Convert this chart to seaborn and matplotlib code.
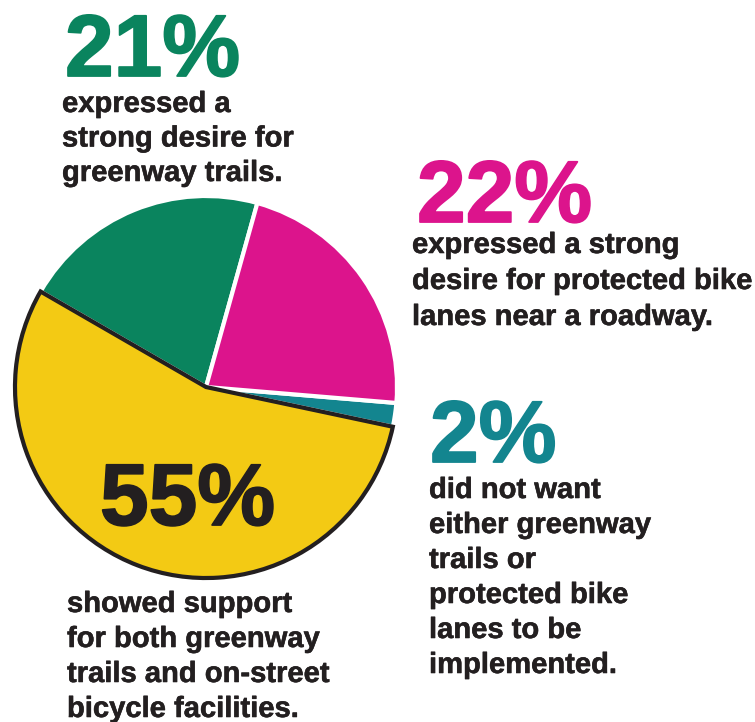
import matplotlib
matplotlib.use("Agg")
import matplotlib.pyplot as plt
import matplotlib.patheffects as pe
import seaborn as sns

sns.set_theme(style="white")
plt.rcParams["font.family"] = ["Liberation Sans", "DejaVu Sans"]

# Survey shares, in the order drawn around the pie
categories = ["greenway", "both", "neither", "protected lanes"]
shares = [21, 55, 2, 22]
palette = sns.color_palette(["#0A845E", "#F3CA14", "#13858F", "#DC148C"])
explode = [0.0, 0.022, 0.025, 0.035]

pct_labels = ["21%", "55%", "2%", "22%"]
pct_colors = ["#0A845E", "#231F20", "#13858F", "#DC148C"]
captions = [
    ["expressed a", "strong desire for", "greenway trails."],
    ["showed support", "for both greenway", "trails and on-street", "bicycle facilities."],
    ["did not want", "either greenway", "trails or", "protected bike", "lanes to be", "implemented."],
    ["expressed a strong", "desire for protected bike", "lanes near a roadway."],
]

W, H = 755, 722
TEXT = "#231F20"

fig = plt.figure(figsize=(W / 100, H / 100), dpi=100)
ax = fig.add_axes([0, 0, 1, 1])

wedges, _ = ax.pie(
    shares,
    colors=palette,
    explode=explode,
    startangle=74.4,
    counterclock=True,
    center=(206, H - 387),
    radius=191,
    wedgeprops=dict(edgecolor="white", linewidth=3.0),
    frame=True,
)
ax.set_xlim(0, W)
ax.set_ylim(0, H)
ax.set_aspect("equal")
ax.axis("off")
wedges[1].set_edgecolor("#231F20")
wedges[1].set_linewidth(3.0)
wedges[1].set_zorder(3)


def y(px):
    return H - px


# Big percentage figures: (x, baseline) in pixels from top-left
pct_pos = [(65, 76), (100, 525), (430, 462), (417, 222)]
for lab, col, (px, py) in zip(pct_labels, pct_colors, pct_pos):
    ax.text(px, y(py), lab, color=col, fontsize=63, fontweight="bold",
            ha="left", va="baseline", zorder=5,
            path_effects=[pe.withStroke(linewidth=1.3, foreground=col)])

# Caption blocks: left x, first baseline, line step
cap_pos = [(62, 112, 34.5), (67, 612, 35), (429, 498, 35), (412, 253, 36)]
for lines, (px, py, step) in zip(captions, cap_pos):
    for i, line in enumerate(lines):
        ax.text(px, y(py + i * step), line, color=TEXT, fontsize=21,
                fontweight="bold", ha="left", va="baseline", zorder=5,
                path_effects=[pe.withStroke(linewidth=0.4, foreground=TEXT)])

fig.savefig("out.png", dpi=100, facecolor="white")
